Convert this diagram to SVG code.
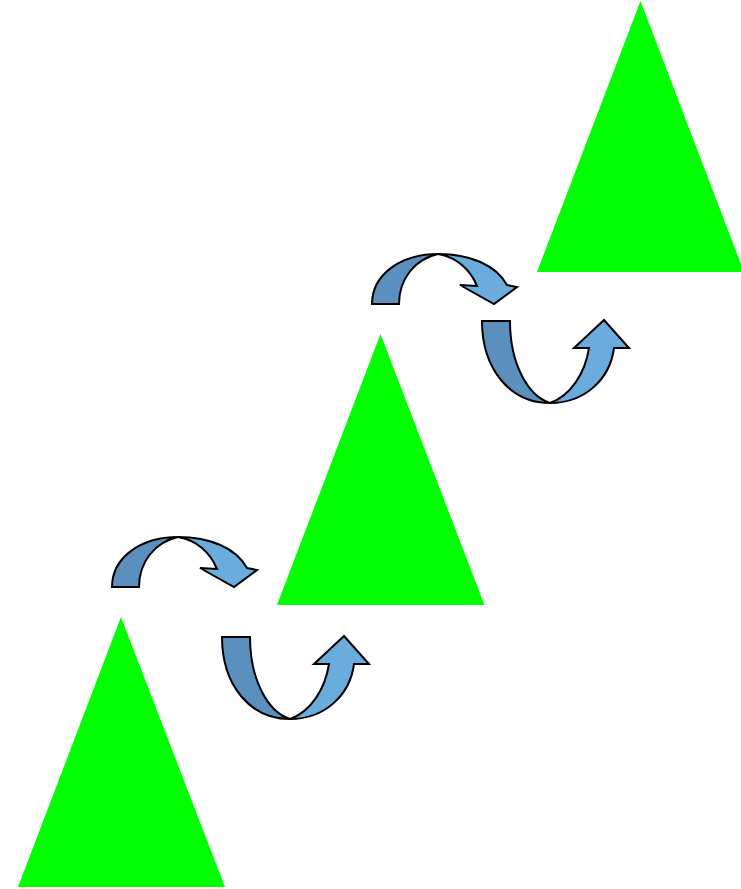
<svg xmlns="http://www.w3.org/2000/svg" xmlns:xlink="http://www.w3.org/1999/xlink" width="741" height="889" viewBox="0 0 741 889">
<style>
.tri{fill:#00ff00;stroke:none}
.dk{fill:#5b8fbd;stroke:#000;stroke-width:2;stroke-linejoin:miter}
.lt{fill:#6aaddc;stroke:#000;stroke-width:2;stroke-linejoin:miter}
</style>
<defs>
<g id="overArrow">
<path class="dk" d="M112,587 C112,558 140,537 178,537 C155,542 139,562 139,587 Z"/>
<path class="lt" d="M178,537 C210,537 236,548 247,568 L257,570 L234,587 L200,568 L217,569 C210,552 196,540 178,537 Z"/>
</g>
<g id="underArrow">
<path class="dk" d="M222,637 C222,685 250,719 290,719 C268,712 250,680 250,637 Z"/>
<path class="lt" d="M290,719 C325,719 350,695 354,664 L369,664 L344,636 L314,664 L329,664 C325,690 310,712 290,719 Z"/>
</g>
</defs>
<g id="triangle1"><polygon class="tri" points="121,617 18,887 225,887"/></g>
<g id="triangle2"><polygon class="tri" points="380.5,334 277,605 484.5,605"/></g>
<g id="triangle3"><polygon class="tri" points="640.5,1 537,272 744,272"/></g>
<g id="connectors">
<use xlink:href="#overArrow"/>
<use xlink:href="#underArrow"/>
<use xlink:href="#overArrow" transform="translate(260,-283)"/>
<use xlink:href="#underArrow" transform="translate(260,-316)"/>
</g>
</svg>
